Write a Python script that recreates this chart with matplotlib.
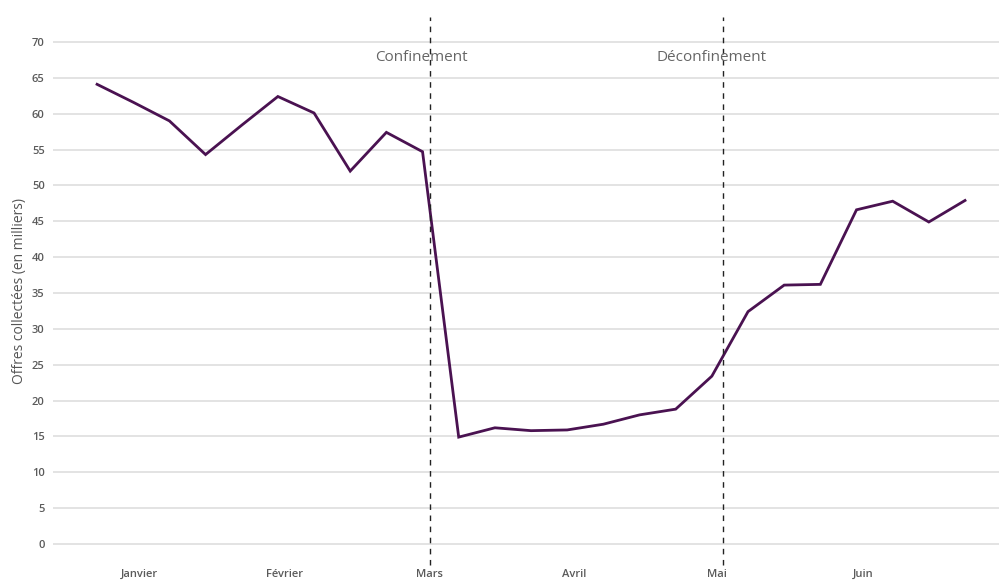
import matplotlib
matplotlib.use("Agg")
import matplotlib.pyplot as plt
import numpy as np

# weekly offers collected (thousands)
offres = [64.1, 61.6, 59.0, 54.3, 58.4, 62.4, 60.1, 52.0, 57.4, 54.7,
          14.9, 16.2, 15.8, 15.9, 16.7, 18.0, 18.8, 23.4, 32.4, 36.1,
          36.2, 46.6, 47.8, 44.9, 47.9]
mois = ["Janvier", "Février", "Mars", "Avril", "Mai", "Juin"]
mois_pos = [1.17, 5.18, 9.19, 13.18, 17.15, 21.19]
evenements = ["Confinement", "Déconfinement"]
evenements_pos = [9.2, 17.3]
texte_pos = [8.98, 17.0]

plt.rcParams['font.family'] = ['Open Sans', 'DejaVu Sans']

fig = plt.figure(figsize=(9.99, 5.83), dpi=100)
ax = fig.add_axes([0.053, 0.019, 0.947, 0.952])

x = np.arange(len(offres))
ax.plot(x, offres, color="#4a1251", lw=2, zorder=3, solid_joinstyle="miter")

# dashed event lines stop just above the month labels
ax.vlines(evenements_pos, -2.9, 73.5, color="#222222", lw=1,
          linestyles=[(0, (4, 4))], zorder=4)
for pos, txt in zip(texte_pos, evenements):
    ax.text(pos, 67.8, txt, ha="center", va="center", fontsize=11,
            color="#666666", zorder=5)

ax.set_xlim(-1.22, 24.94)
ax.set_ylim(-3.9, 73.5)
ax.set_yticks(range(0, 71, 5))
ax.set_xticks(mois_pos)
ax.set_xticklabels(mois)
ax.grid(axis="y", color="#e3e3e3", lw=1.4)
ax.set_axisbelow(True)
ax.tick_params(axis="both", length=0, labelsize=8, labelcolor="#5a5a5a")
ax.tick_params(axis="y", pad=6)
ax.tick_params(axis="x", pad=-2)
for lab in ax.get_xticklabels() + ax.get_yticklabels():
    lab.set_fontweight("semibold")
for s in ax.spines.values():
    s.set_visible(False)

fig.text(0.02, 0.5, "Offres collectées (en milliers)", rotation=90,
         ha="center", va="center", fontsize=10, color="#555555")

fig.savefig("out.png", dpi=100)
